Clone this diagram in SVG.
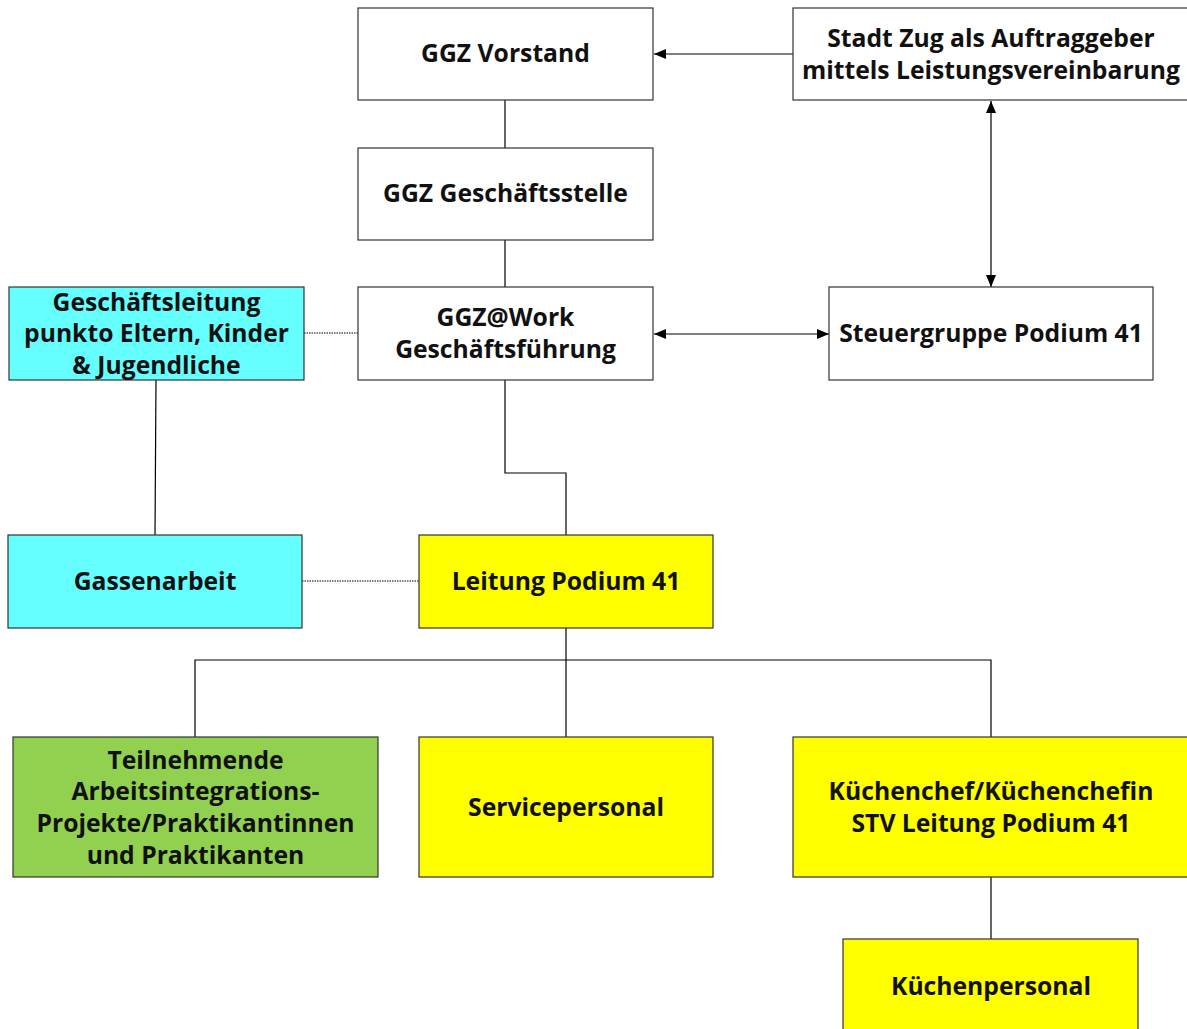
<svg xmlns="http://www.w3.org/2000/svg" width="1187" height="1029" viewBox="0 0 1187 1029">
<defs>
<marker id="ah" viewBox="0 0 12 10" refX="12" refY="5" markerWidth="12" markerHeight="10" markerUnits="userSpaceOnUse" orient="auto-start-reverse">
<path d="M0,0 L12,5 L0,10 z" fill="#000"/>
</marker>
<style>
.box{stroke:#333;stroke-width:1.2}
.w{fill:#fff}.c{fill:#66ffff}.y{fill:#ffff00}.g{fill:#92d050}
text{font-family:"Open Sans","Noto Sans","DejaVu Sans",sans-serif;font-weight:bold;font-size:24.7px;fill:#111;text-anchor:middle}
.ln{stroke:#000;stroke-width:1.2;fill:none}
.dot{stroke:#555;stroke-width:1.3;stroke-dasharray:1.5 1;fill:none}
</style>
</defs>
<rect width="1187" height="1029" fill="#fff"/>
<g id="connectors">
<line class="ln" x1="793" y1="54" x2="654" y2="54" marker-end="url(#ah)"/>
<line class="ln" x1="505" y1="100" x2="505" y2="148"/>
<line class="ln" x1="505" y1="240" x2="505" y2="287"/>
<line class="ln" x1="991" y1="101" x2="991" y2="287" marker-start="url(#ah)" marker-end="url(#ah)"/>
<line class="ln" x1="654" y1="334" x2="829" y2="334" marker-start="url(#ah)" marker-end="url(#ah)"/>
<line class="dot" x1="304" y1="333" x2="358" y2="333"/>
<line class="ln" x1="156" y1="380" x2="155" y2="535"/>
<line class="dot" x1="302" y1="581" x2="419" y2="581"/>
<polyline class="ln" points="505,380 505,473 566,473 566,535"/>
<line class="ln" x1="566" y1="628" x2="566" y2="737"/>
<polyline class="ln" points="195,737 195,660 991,660 991,737"/>
<line class="ln" x1="991" y1="877" x2="991" y2="939"/>
</g>
<g id="ggz-vorstand"><rect class="box w" x="358" y="8" width="295" height="92"/><text x="505.500" y="62">GGZ Vorstand</text></g>
<g id="stadt-zug"><rect class="box w" x="793" y="8" width="400" height="92"/><text x="991" y="47">Stadt Zug als Auftraggeber</text><text x="991" y="79">mittels Leistungsvereinbarung</text></g>
<g id="ggz-geschaeftsstelle"><rect class="box w" x="358" y="148" width="295" height="92"/><text x="505.500" y="202">GGZ Geschäftsstelle</text></g>
<g id="ggz-work"><rect class="box w" x="358" y="287" width="295" height="93"/><text x="505.500" y="326">GGZ@Work</text><text x="505.500" y="358">Geschäftsführung</text></g>
<g id="steuergruppe"><rect class="box w" x="829" y="287" width="324" height="93"/><text x="991" y="342">Steuergruppe Podium 41</text></g>
<g id="geschaeftsleitung"><rect class="box c" x="9" y="287" width="295" height="93"/><text x="156.500" y="311">Geschäftsleitung</text><text x="156.500" y="342">punkto Eltern, Kinder</text><text x="156.500" y="374">&amp; Jugendliche</text></g>
<g id="gassenarbeit"><rect class="box c" x="8" y="535" width="294" height="93"/><text x="155" y="590">Gassenarbeit</text></g>
<g id="leitung-podium"><rect class="box y" x="419" y="535" width="294" height="93"/><text x="566" y="590">Leitung Podium 41</text></g>
<g id="teilnehmende"><rect class="box g" x="13" y="737" width="365" height="140"/><text x="195.500" y="769">Teilnehmende</text><text x="195.500" y="800">Arbeitsintegrations-</text><text x="195.500" y="832">Projekte/Praktikantinnen</text><text x="195.500" y="864">und Praktikanten</text></g>
<g id="servicepersonal"><rect class="box y" x="419" y="737" width="294" height="140"/><text x="566" y="816">Servicepersonal</text></g>
<g id="kuechenchef"><rect class="box y" x="793" y="737" width="400" height="140"/><text x="991" y="800">Küchenchef/Küchenchefin</text><text x="991" y="832">STV Leitung Podium 41</text></g>
<g id="kuechenpersonal"><rect class="box y" x="843" y="939" width="295" height="100"/><text x="991" y="995">Küchenpersonal</text></g>
</svg>
